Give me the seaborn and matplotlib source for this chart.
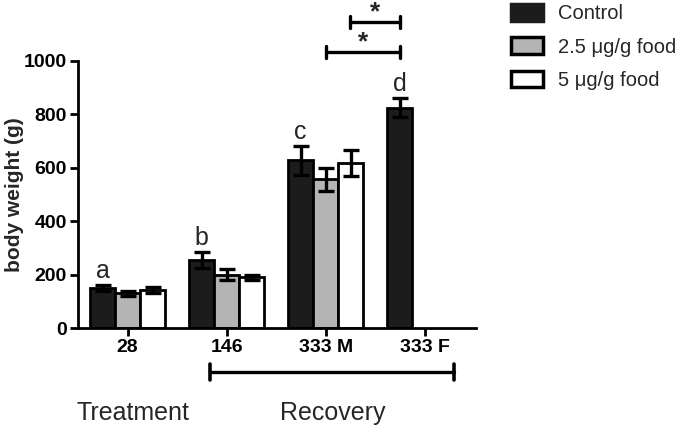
import pandas as pd
import numpy as np
import matplotlib
matplotlib.use("Agg")
import matplotlib.pyplot as plt
import matplotlib.patches as mpatches
import matplotlib.transforms as mtransforms
import seaborn as sns

# values (mean and error, g)
groups = ["28", "146", "333 M", "333 F"]
treatments = ["Control", "2.5 \u03bcg/g food", "5 \u03bcg/g food"]
control = [150, 255, 628, 825]
control_err = [10, 30, 55, 35]
low_dose = [130, 200, 557, np.nan]
low_dose_err = [10, 20, 43, np.nan]
high_dose = [142, 190, 618, np.nan]
high_dose_err = [12, 8, 50, np.nan]
letters = ["a", "b", "c", "d"]

colors = ["#1c1c1c", "#b4b4b4", "#ffffff"]

rows = []
for trt, vals, errs in zip(treatments, [control, low_dose, high_dose],
                           [control_err, low_dose_err, high_dose_err]):
    for g, v, e in zip(groups, vals, errs):
        if not np.isnan(v):
            rows.append({"group": g, "treatment": trt, "weight": v, "err": e})
df = pd.DataFrame(rows)

sns.set_theme(style="ticks")
plt.rcParams["font.family"] = ["Liberation Sans", "DejaVu Sans"]

fig = plt.figure(figsize=(6.85, 4.29), dpi=100)
ax = fig.add_axes([0.114, 0.235, 0.581, 0.623])

sns.barplot(data=df, x="group", y="weight", hue="treatment",
            order=groups, hue_order=treatments, palette=colors,
            errorbar=None, width=0.76, edgecolor="black", linewidth=2,
            legend=False, ax=ax)

# error bars from the stored errors
err_lookup = {(r.treatment, r.weight): r.err for r in df.itertuples()}
tops = {}
for trt, cont in zip(treatments, ax.containers):
    for bar in cont:
        h = bar.get_height()
        xc = bar.get_x() + bar.get_width() / 2
        e = err_lookup[(trt, h)]
        ax.errorbar(xc, h, yerr=e, fmt="none", ecolor="black",
                    elinewidth=2.4, capsize=5.5, capthick=2.4, zorder=5)
        if trt == "Control":
            tops[round(xc, 3)] = (xc, h + e)

# group letters above control bars
for (xc, top), lab in zip(sorted(tops.values()), letters):
    ax.annotate(lab, (xc, top), xytext=(0, 5), textcoords="offset points",
                ha="center", va="baseline", fontsize=18)

ax.set_xlim(-0.5, 3.52)
ax.set_ylim(0, 1000)
ax.set_yticks([0, 200, 400, 600, 800, 1000])
ax.set_xlabel("")
ax.set_ylabel("body weight (g)", fontsize=15, fontweight="bold")
ax.yaxis.set_label_coords(-0.137, 0.5)
for lab in ax.get_xticklabels() + ax.get_yticklabels():
    lab.set_fontweight("bold")
ax.tick_params(axis="both", labelsize=14, width=2, length=6, color="black",
               labelcolor="black", pad=2)
sns.despine(ax=ax)
for sp in ["left", "bottom"]:
    ax.spines[sp].set_linewidth(2)
    ax.spines[sp].set_color("black")

# significance brackets above the axes
def bracket(x0, x1, y):
    ax.plot([x0, x1], [y, y], color="black", lw=2.4, clip_on=False)
    for xx in (x0, x1):
        ax.plot([xx, xx], [y - 22, y + 22], color="black", lw=2.4, clip_on=False)
    ax.annotate("*", ((x0 + x1) / 2, y), xytext=(0, -2),
                textcoords="offset points", ha="center", va="bottom",
                fontsize=19, fontweight="bold", annotation_clip=False)

bracket(2.0, 2.75, 1034)
bracket(2.25, 2.75, 1147)

# recovery bar under the axis
trans = mtransforms.blended_transform_factory(ax.transData, ax.transAxes)
ax.plot([0.83, 3.3], [-0.164, -0.164], color="black", lw=2.4,
        transform=trans, clip_on=False)
for xx in (0.83, 3.3):
    ax.plot([xx, xx], [-0.164 - 0.03, -0.164 + 0.03], color="black", lw=2.6,
            transform=trans, clip_on=False)
fig.text(133 / 685, 1 - 413 / 429, "Treatment", ha="center", va="center",
         fontsize=18)
fig.text(333 / 685, 1 - 413 / 429, "Recovery", ha="center", va="center",
         fontsize=18)

handles = [mpatches.Patch(facecolor=c, edgecolor=c if i == 0 else "black",
                          linewidth=2.5, label=t)
           for i, (c, t) in enumerate(zip(colors, treatments))]
fig.legend(handles=handles, loc="upper left", bbox_to_anchor=(0.72, 1.033),
           frameon=False, fontsize=14.5, handlelength=1.55, handleheight=0.9,
           labelspacing=0.7, handletextpad=0.75)

fig.savefig("out.png", dpi=100)
